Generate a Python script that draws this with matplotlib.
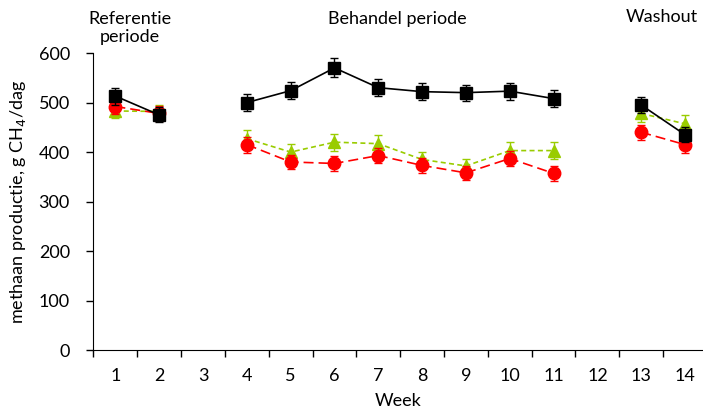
import matplotlib.pyplot as plt
import numpy as np

plt.rcParams['font.family'] = ['Lato', 'DejaVu Sans']

# Data
weeks = np.arange(1, 15)
black = [513, 475, np.nan, 500, 524, 570, 530, 522, 520, 523, 508, np.nan, 495, 435]
black_err = [17, 15, np.nan, 18, 17, 19, 17, 17, 16, 17, 17, np.nan, 17, 15]
red = [492, 478, np.nan, 415, 380, 377, 393, 373, 358, 387, 357, np.nan, 440, 415]
red_err = [15, 15, np.nan, 16, 15, 15, 15, 15, 14, 15, 15, np.nan, 15, 16]
green = [483, 482, np.nan, 427, 400, 420, 417, 385, 372, 403, 403, np.nan, 478, 457]
green_err = [15, 13, np.nan, 17, 16, 17, 17, 16, 15, 17, 18, np.nan, 17, 17]

fig = plt.figure(figsize=(7.03, 4.11), dpi=100)
ax = fig.add_axes([0.133, 0.148, 0.867, 0.723])

green_c = '#99cc00'
ax.errorbar(weeks, green, yerr=green_err, color=green_c, ecolor=green_c, marker='^',
            markersize=9, linestyle=(0, (3, 2)), linewidth=1.2, capsize=3, elinewidth=1, zorder=2)
ax.errorbar(weeks, red, yerr=red_err, color='#ff0000', ecolor='#ff0000', marker='o',
            markersize=9, linestyle=(0, (6, 3)), linewidth=1.2, capsize=3, elinewidth=1, zorder=3)
ax.errorbar(weeks, black, yerr=black_err, color='black', ecolor='black', marker='s',
            markersize=9, linestyle='-', linewidth=1.2, capsize=3, elinewidth=1, zorder=4)

ax.set_xlim(0.5, 14.41)
ax.set_ylim(0, 600)
ax.set_yticks(range(0, 601, 100))
ax.set_xticks(np.arange(0.5, 14.5, 1))
ax.set_xticklabels([])
ax.set_xticks(weeks, minor=True)
ax.set_xticklabels([str(w) for w in weeks], minor=True)
ax.tick_params(axis='x', which='major', direction='out', length=5, width=1)
ax.tick_params(axis='x', which='minor', length=0, pad=13, labelsize=13)
ax.tick_params(axis='y', direction='out', length=5, width=1, labelsize=13, pad=12)

for s in ['top', 'right']:
    ax.spines[s].set_visible(False)

ax.set_xlabel('Week', fontsize=13, labelpad=6)
ax.set_ylabel('methaan productie, g CH$_4$/dag', fontsize=13, labelpad=8)

fig.text(130 / 703, 1 - 28 / 411, 'Referentie\nperiode', ha='center', va='center', fontsize=13, linespacing=1.2)
fig.text(397 / 703, 1 - 19 / 411, 'Behandel periode', ha='center', va='center', fontsize=13)
fig.text(662 / 703, 1 - 17 / 411, 'Washout', ha='center', va='center', fontsize=13)

fig.savefig('out.png', dpi=100)
